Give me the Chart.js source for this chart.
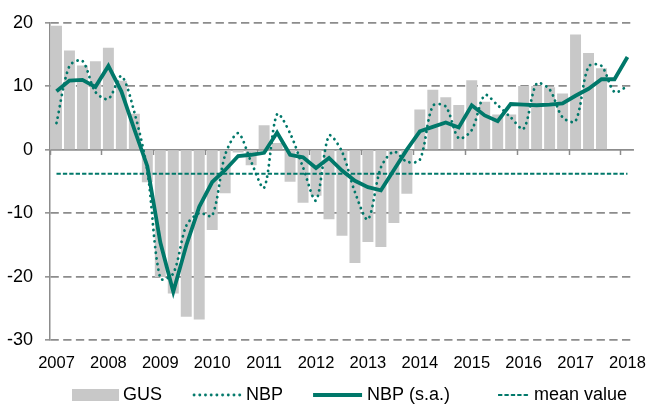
<!DOCTYPE html>
<html><head><meta charset="utf-8">
<script src="https://cdn.jsdelivr.net/npm/chart.js@4.4.0/dist/chart.umd.min.js"></script>
<style>
html,body{margin:0;padding:0;background:#fff;overflow:hidden;}
#wrap{position:relative;width:660px;height:405px;}
</style></head><body>
<div id="wrap"><canvas id="c"></canvas></div>
<script>
const years = ['2007','2008','2009','2010','2011','2012','2013','2014','2015','2016','2017','2018'];
const quarterNames = ['Q1','Q2','Q3','Q4'];
const categories = [];
years.forEach(y => quarterNames.forEach(q => categories.push(y + ' ' + q)));
categories.length = 45; // 2007 Q1 .. 2018 Q1

const gus = [19.5, 15.6, 13.2, 13.9, 16.0, 10.8, 5.6, -5.1,
  -20.0, -22.6, -26.3, -26.7, -12.6, -6.8, -0.4, -2.4,
  3.8, 1.0, -5.0, -8.3, -7.2, -10.9, -13.5, -17.8,
  -14.5, -15.3, -11.5, -6.9, 6.3, 9.4, 8.2, 7.0,
  10.9, 7.5, 5.5, 5.5, 10.0, 10.0, 9.8, 8.8,
  18.1, 15.2, 12.8, null, null];
const nbp = [4.2, 13.2, 14.0, 9.1, 8.0, 11.6, 5.9, -3.3,
  -20.3, -19.5, -12.0, -10.0, -10.4, -0.8, 2.6, -1.9,
  -6.0, 5.6, 2.6, -2.8, -8.0, 2.2, -0.3, -6.7,
  -11.0, -2.8, -0.3, -1.9, -1.6, 6.9, 6.8, 1.8,
  3.1, 8.6, 7.0, 5.1, 3.3, 10.4, 9.5, 5.1,
  4.5, 13.1, 13.2, 9.1, 10.0];
const nbpSa = [9.2, 10.9, 11.0, 9.9, 13.2, 9.2, 3.2, -2.6,
  -14.6, -22.4, -15.1, -9.0, -5.1, -3.2, -1.0, -0.8,
  -0.5, 2.7, -0.8, -1.2, -2.9, -1.3, -3.3, -4.9,
  -5.9, -6.4, -3.2, 0.0, 2.9, 3.6, 4.3, 3.5,
  7.0, 5.4, 4.5, 7.2, 7.1, 7.0, 7.1, 7.3,
  8.5, 9.6, 11.1, 11.1, 14.6];
const meanValue = [-3.8, -3.8, -3.8, -3.8, -3.8, -3.8, -3.8, -3.8, -3.8,
  -3.8, -3.8, -3.8, -3.8, -3.8, -3.8, -3.8, -3.8, -3.8, -3.8,
  -3.8, -3.8, -3.8, -3.8, -3.8, -3.8, -3.8, -3.8, -3.8, -3.8,
  -3.8, -3.8, -3.8, -3.8, -3.8, -3.8, -3.8, -3.8, -3.8, -3.8,
  -3.8, -3.8, -3.8, -3.8, -3.8, -3.8];
const yTickValues = [-30, -20, -10, 0, 10, 20];
const seriesNames = ['GUS', 'NBP', 'NBP (s.a.)', 'mean value'];

const TEAL = '#00786a';
const BARGRAY = '#c8c8c8';
const GRID = '#8c8c8c';
const FONT = "'Liberation Sans', Arial, sans-serif";

// legend swatches drawn on small canvases (used as point styles)
function swatch(kind, u0, u1) {
  const cv = document.createElement('canvas');
  cv.width = 90; cv.height = 20;
  const g = cv.getContext('2d');
  if (kind === 'rect') {
    g.fillStyle = BARGRAY;
    g.fillRect(u0, 4, u1 - u0, 12);
  } else {
    g.strokeStyle = TEAL;
    if (kind === 'dot') { g.lineWidth = 2.8; g.lineCap = 'round'; g.setLineDash([0.1, 5.6]); }
    else if (kind === 'solid') { g.lineWidth = 3.8; }
    else { g.lineWidth = 2; g.setLineDash([4.3, 2.1]); }
    g.beginPath(); g.moveTo(u0, 10); g.lineTo(u1, 10); g.stroke();
  }
  return cv;
}
const swatches = [swatch('rect', 39, 86), swatch('dot', 38, 88), swatch('solid', 36, 85), swatch('dash', 54, 86)];

const legendShift = {
  id: 'legendShift',
  afterLayout(chart) {
    const l = chart.legend;
    if (!l) return;
    l.left += 39; l.right += 39;
    l.top += 9; l.bottom += 9;
  }
};

new Chart(document.getElementById('c'), {
  type: 'bar',
  data: {
    labels: categories,
    datasets: [
      { type: 'bar', label: seriesNames[0], data: gus, backgroundColor: BARGRAY, borderWidth: 0, barThickness: 10.3, order: 3 },
      { type: 'line', label: seriesNames[1], data: nbp, borderColor: TEAL, borderWidth: 2.8, borderDash: [0.1, 5.6], borderCapStyle: 'round', pointRadius: 0, tension: 0.3, fill: false, order: 1 },
      { type: 'line', label: seriesNames[2], data: nbpSa, borderColor: TEAL, borderWidth: 3.8, pointRadius: 0, tension: 0, fill: false, order: 0 },
      { type: 'line', label: seriesNames[3], data: meanValue, borderColor: TEAL, borderWidth: 2.1, borderDash: [4.3, 2.1], pointRadius: 0, tension: 0, fill: false, order: 2 }
    ]
  },
  options: {
    responsive: true,
    maintainAspectRatio: false,
    animation: false,
    layout: { padding: { top: 15, right: 17, left: 0, bottom: 0 } },
    plugins: {
      tooltip: { enabled: false },
      legend: {
        position: 'bottom',
        align: 'start',
        labels: {
          usePointStyle: true,
          pointStyleWidth: 72,
          boxHeight: 12,
          padding: 3,
          color: '#000',
          font: { family: FONT, size: 18 },
          generateLabels(chart) {
            return seriesNames.map((name, i) => ({
              text: name, fillStyle: TEAL, strokeStyle: TEAL, lineWidth: 0,
              pointStyle: swatches[i], datasetIndex: i, hidden: false
            }));
          }
        }
      }
    },
    scales: {
      x: {
        type: 'category',
        position: 'bottom',
        offset: true,
        grid: { display: false, drawTicks: false, tickLength: 0 },
        border: { display: false },
        ticks: {
          autoSkip: false, maxRotation: 0, minRotation: 0, padding: 14,
          color: '#000', font: { family: FONT, size: 16.5 },
          callback(value, index) { return index % 4 === 0 ? years[index / 4] : ''; }
        },
        afterFit(scale) { scale.height = 34; }
      },
      x2: {
        type: 'category',
        labels: categories,
        position: { y: 0 },
        offset: true,
        grid: {
          offset: true, drawOnChartArea: false, drawTicks: true, tickLength: 5, tickWidth: 1.5,
          tickColor: (c) => (c.index !== undefined && c.index % 4 === 0) ? GRID : 'rgba(0,0,0,0)'
        },
        border: { display: false },
        ticks: { display: false }
      },
      y: {
        type: 'linear',
        min: -30, max: 20,
        afterBuildTicks(scale) { scale.ticks = yTickValues.map(v => ({ value: v })); },
        afterFit(scale) { scale.width = 50; },
        ticks: { padding: 12, color: '#000', font: { family: FONT, size: 18 } },
        grid: {
          color: GRID, lineWidth: 1.7, drawTicks: true, tickLength: 5, tickColor: GRID, tickWidth: 1.5, tickBorderDash: []
        },
        border: {
          display: true, color: GRID, width: 1.5,
          dash: (c) => (c.tick && c.tick.value === 0) ? [] : [8.3, 4.4]
        }
      }
    }
  },
  plugins: [legendShift]
});
</script>
</body></html>
